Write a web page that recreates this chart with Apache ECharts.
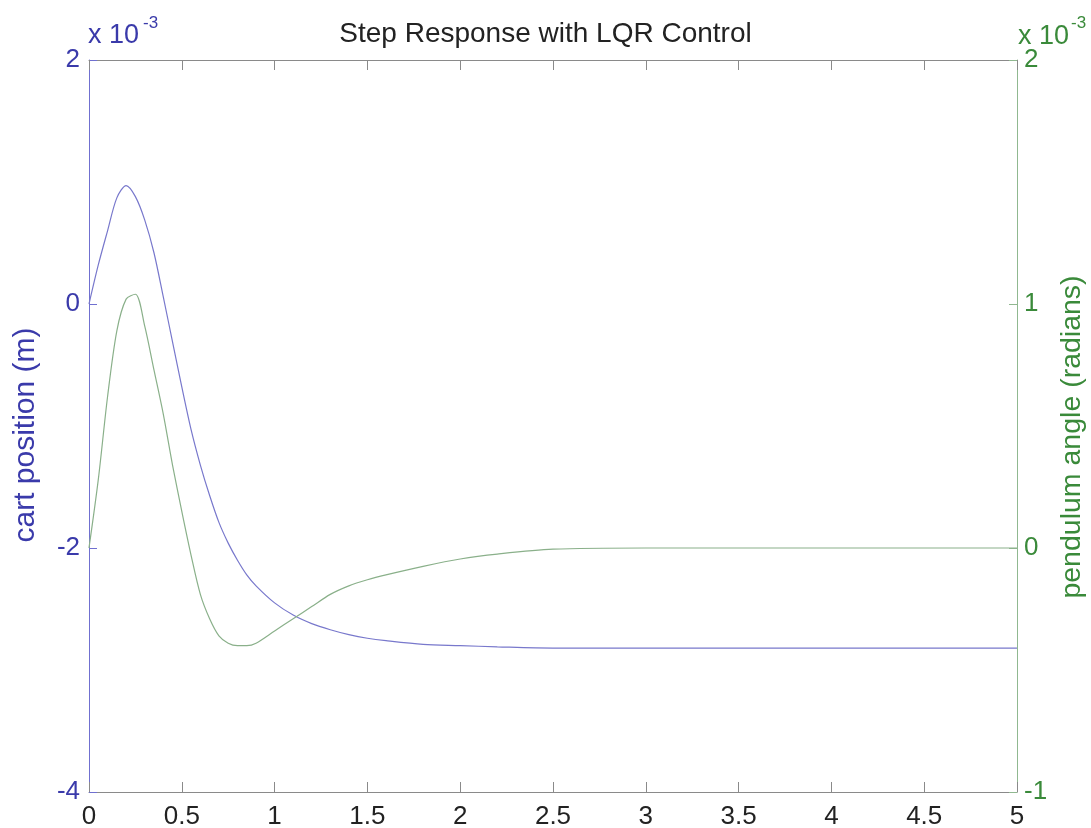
<!DOCTYPE html>
<html>
<head>
<meta charset="utf-8">
<script src="https://cdn.jsdelivr.net/npm/echarts@6/dist/echarts.min.js"></script>
<style>html,body{margin:0;padding:0;background:#fff}#c{width:1091px;height:828px}</style>
</head>
<body>
<div id="c"></div>
<script>
// time (s)
const time = [0,0.05,0.1,0.15,0.2,0.25,0.3,0.35,0.4,0.45,0.5,0.55,0.6,0.65,0.7,0.75,0.8,0.85,0.9,1.0,1.1,1.2,1.3,1.4,1.5,1.6,1.8,2.0,2.2,2.5,3.0,3.5,4.0,4.5,5.0];
// cart position (x 10^-3 m)
const cartPos = [0,0.32,0.60,0.87,0.97,0.88,0.69,0.42,0.06,-0.31,-0.68,-1.03,-1.32,-1.57,-1.79,-1.96,-2.10,-2.22,-2.31,-2.45,-2.55,-2.62,-2.67,-2.71,-2.74,-2.76,-2.79,-2.80,-2.81,-2.82,-2.82,-2.82,-2.82,-2.82,-2.82];
// pendulum angle (x 10^-3 rad)
const pendAngle = [0,0.28,0.62,0.89,1.02,1.04,0.91,0.73,0.55,0.34,0.15,-0.03,-0.19,-0.29,-0.36,-0.39,-0.40,-0.40,-0.39,-0.34,-0.29,-0.24,-0.19,-0.155,-0.13,-0.11,-0.075,-0.045,-0.025,-0.005,0,0,0,0,0];
const xTicks = [0,0.5,1,1.5,2,2.5,3,3.5,4,4.5,5];
const leftTicks = [-4,-2,0,2];
const rightTicks = [-1,0,1,2];

const FONT = 'Liberation Sans, Arial, sans-serif';
const BLUE_TXT = '#3a3aaa';
const GREEN_TXT = '#3a8a3a';
const BLUE_LINE = '#7878cc';
const GREEN_LINE = '#8ab08a';
const GRAY = '#8a8a8a';

const chart = echarts.init(document.getElementById('c'), null, {renderer:'canvas'});
chart.setOption({
  animation:false,
  backgroundColor:'#fff',
  title:{text:'Step Response with LQR Control',left:'center',top:15,
    textStyle:{fontFamily:FONT,fontSize:28,fontWeight:'normal',color:'#222'}},
  grid:{left:89,top:60,right:74,bottom:36,containLabel:false,outerBoundsMode:'none'},
  xAxis:[{
    type:'value',min:0,max:5,interval:0.5,position:'bottom',
    axisLine:{onZero:false,lineStyle:{color:GRAY,width:1}},
    axisTick:{inside:true,length:10,lineStyle:{color:GRAY}},
    axisLabel:{color:'#222',fontFamily:FONT,fontSize:26,margin:12,
      formatter:v=>xTicks.includes(v)?String(v):''},
    splitLine:{show:false}
  },{
    type:'value',min:0,max:5,interval:0.5,position:'top',
    axisLine:{onZero:false,lineStyle:{color:GRAY,width:1}},
    axisTick:{inside:true,length:10,lineStyle:{color:GRAY}},
    axisLabel:{show:false},splitLine:{show:false}
  }],
  yAxis:[{
    type:'value',min:-4,max:2,interval:2,position:'left',
    axisLine:{show:true,onZero:false,lineStyle:{color:'#7070d0',width:1}},
    axisTick:{show:true,inside:true,length:8,lineStyle:{color:'#7070d0'}},
    axisLabel:{color:BLUE_TXT,fontFamily:FONT,fontSize:26,margin:9,
      formatter:v=>leftTicks.includes(v)?String(v):''},
    splitLine:{show:false}
  },{
    type:'value',min:-1,max:2,interval:1,position:'right',
    axisLine:{show:true,onZero:false,lineStyle:{color:'#90b890',width:1}},
    axisTick:{show:true,inside:true,length:8,lineStyle:{color:'#90b890'}},
    axisLabel:{color:GREEN_TXT,fontFamily:FONT,fontSize:26,margin:7,
      formatter:v=>rightTicks.includes(v)?String(v):''},
    splitLine:{show:false}
  }],
  graphic:[{
    type:'text',x:26,y:435,rotation:Math.PI/2,
    style:{text:'cart position (m)',fill:BLUE_TXT,font:'30px '+FONT,align:'center',verticalAlign:'middle'}
  },{
    type:'text',x:1072,y:437,rotation:Math.PI/2,
    style:{text:'pendulum angle (radians)',fill:GREEN_TXT,font:'28.5px '+FONT,align:'center',verticalAlign:'middle'}
  },{
    type:'text',x:88,y:36,
    style:{text:'x 10',fill:BLUE_TXT,font:'27px '+FONT,align:'left',verticalAlign:'middle'}
  },{
    type:'text',x:143,y:23,
    style:{text:'-3',fill:BLUE_TXT,font:'17px '+FONT,align:'left',verticalAlign:'middle'}
  },{
    type:'text',x:1018,y:37,
    style:{text:'x 10',fill:GREEN_TXT,font:'27px '+FONT,align:'left',verticalAlign:'middle'}
  },{
    type:'text',x:1071,y:23,
    style:{text:'-3',fill:GREEN_TXT,font:'17px '+FONT,align:'left',verticalAlign:'middle'}
  }],
  series:[{
    type:'line',xAxisIndex:0,yAxisIndex:0,showSymbol:false,smooth:0.3,
    data:time.map((t,i)=>[t,cartPos[i]]),
    lineStyle:{color:BLUE_LINE,width:1.2}
  },{
    type:'line',xAxisIndex:0,yAxisIndex:1,showSymbol:false,smooth:0.3,
    data:time.map((t,i)=>[t,pendAngle[i]]),
    lineStyle:{color:GREEN_LINE,width:1.2}
  }]
});
</script>
</body>
</html>
